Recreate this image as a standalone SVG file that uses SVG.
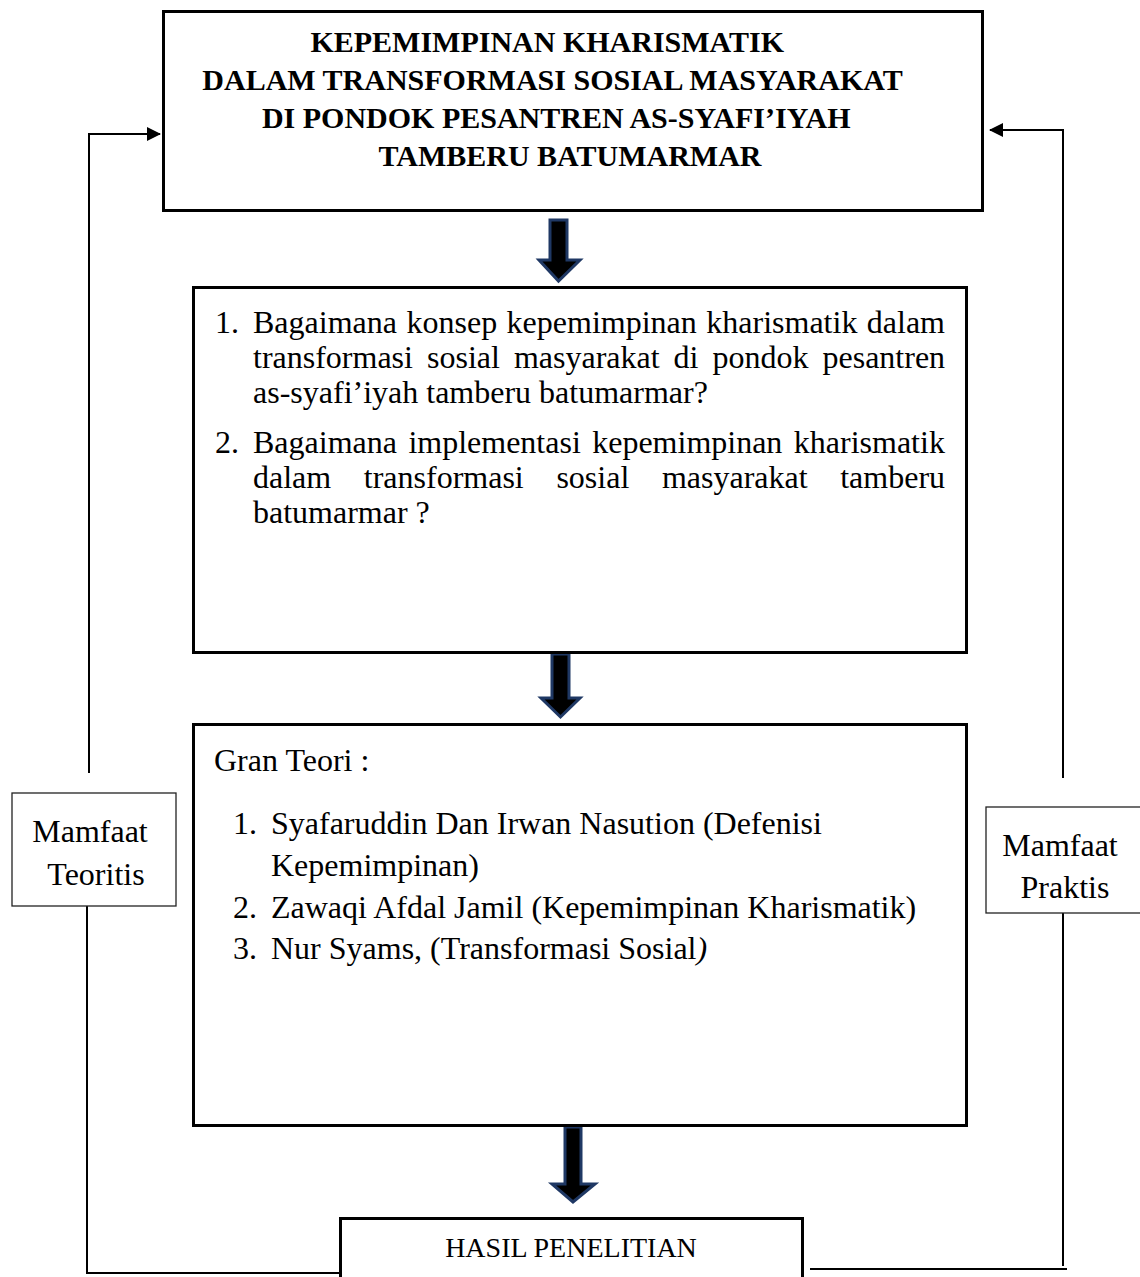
<svg xmlns="http://www.w3.org/2000/svg" width="1140" height="1277" viewBox="0 0 1140 1277">
<defs>
<style>
.box{fill:#fff;stroke:#000;stroke-width:3}
.sbox{fill:#fff;stroke:#222;stroke-width:1.3}
.t{font-family:"Liberation Serif","Times New Roman",serif;font-size:32px;fill:#000}
.tb{font-family:"Liberation Serif","Times New Roman",serif;font-size:30px;font-weight:bold;fill:#000}
.ln{fill:none;stroke:#000;stroke-width:2}
.blk{fill:#000;stroke:#1f3864;stroke-width:3;stroke-linejoin:miter}
</style>
<marker id="ah" viewBox="0 0 14 14" refX="13" refY="7" markerWidth="14" markerHeight="14" markerUnits="userSpaceOnUse" orient="auto">
<path d="M0,0 L14,7 L0,14 Z" fill="#000"/>
</marker>
</defs>
<rect width="1140" height="1277" fill="#fff"/>

<g id="connectors">
<polyline class="ln" points="89,773 89,134 160,134" marker-end="url(#ah)"/>
<polyline class="ln" points="1063,778 1063,130 990,130" marker-end="url(#ah)"/>
<polyline class="ln" points="87,906 87,1273 340,1273"/>
<line class="ln" x1="810" y1="1269" x2="1067" y2="1269"/>
<line class="ln" x1="1063" y1="913" x2="1063" y2="1266"/>
<polygon class="blk" points="550,220 567,220 567,260 580,260 558.5,281 539,260 550,260"/>
<polygon class="blk" points="552,654 569,654 569,698 580,698 560.5,717 541,698 552,698"/>
<polygon class="blk" points="565,1127 581,1127 581,1184 595,1184 573,1202 552,1184 565,1184"/>
</g>

<g id="title">
<rect class="box" x="163.5" y="11.5" width="819" height="199"/>
<text class="tb" text-anchor="middle">
<tspan x="551" y="52">KEPEMIMPINAN KHARISMATIK</tspan>
<tspan x="556" y="90">DALAM TRANSFORMASI SOSIAL MASYARAKAT</tspan>
<tspan x="560" y="128">DI PONDOK PESANTREN AS-SYAFI’IYAH</tspan>
<tspan x="570" y="166">TAMBERU BATUMARMAR</tspan>
</text>
</g>

<g id="rumusan">
<rect class="box" x="193.5" y="287.5" width="773" height="365"/>
<text class="t">
<tspan x="215" y="333">1.</tspan>
<tspan x="253" y="333">Bagaimana</tspan><tspan x="406.5" y="333">konsep</tspan><tspan x="506.6" y="333">kepemimpinan</tspan><tspan x="706.3" y="333">kharismatik</tspan><tspan x="866.8" y="333">dalam</tspan>
<tspan x="253" y="368">transformasi</tspan><tspan x="427" y="368">sosial</tspan><tspan x="513.9" y="368">masyarakat</tspan><tspan x="673.6" y="368">di</tspan><tspan x="712.5" y="368">pondok</tspan><tspan x="822.5" y="368">pesantren</tspan>
<tspan x="253" y="403">as-syafi’iyah tamberu batumarmar?</tspan>
<tspan x="215" y="453">2.</tspan>
<tspan x="253" y="453">Bagaimana</tspan><tspan x="408.4" y="453">implementasi</tspan><tspan x="592.2" y="453">kepemimpinan</tspan><tspan x="793.8" y="453">kharismatik</tspan>
<tspan x="253" y="488">dalam</tspan><tspan x="363.8" y="488">transformasi</tspan><tspan x="556.4" y="488">sosial</tspan><tspan x="661.9" y="488">masyarakat</tspan><tspan x="840.2" y="488">tamberu</tspan>
<tspan x="253" y="523">batumarmar ?</tspan>
</text>
</g>

<g id="teori">
<rect class="box" x="193.5" y="724.5" width="773" height="401"/>
<text class="t">
<tspan x="214" y="771">Gran Teori :</tspan>
<tspan x="233" y="834">1.</tspan><tspan x="271" y="834">Syafaruddin Dan Irwan Nasution (Defenisi</tspan>
<tspan x="271" y="876">Kepemimpinan)</tspan>
<tspan x="233" y="918">2.</tspan><tspan x="271" y="918">Zawaqi Afdal Jamil (Kepemimpinan Kharismatik)</tspan>
<tspan x="233" y="959">3.</tspan><tspan x="271" y="959">Nur Syams, (Transformasi Sosial</tspan><tspan font-style="italic">)</tspan>
</text>
</g>

<g id="mamfaat-teoritis">
<rect class="sbox" x="12" y="793" width="164" height="113"/>
<text class="t" text-anchor="middle">
<tspan x="94" y="842">Mamfaat</tspan>
<tspan x="96" y="885">Teoritis</tspan>
</text>
</g>

<g id="mamfaat-praktis">
<rect class="sbox" x="986" y="807" width="160" height="106"/>
<text class="t" text-anchor="middle">
<tspan x="1064" y="856">Mamfaat</tspan>
<tspan x="1065" y="898">Praktis</tspan>
</text>
</g>

<g id="hasil">
<rect class="box" x="340.5" y="1218.5" width="462" height="70"/>
<text class="t" text-anchor="middle" x="571" y="1257" style="font-size:28px">HASIL PENELITIAN</text>
</g>
</svg>
